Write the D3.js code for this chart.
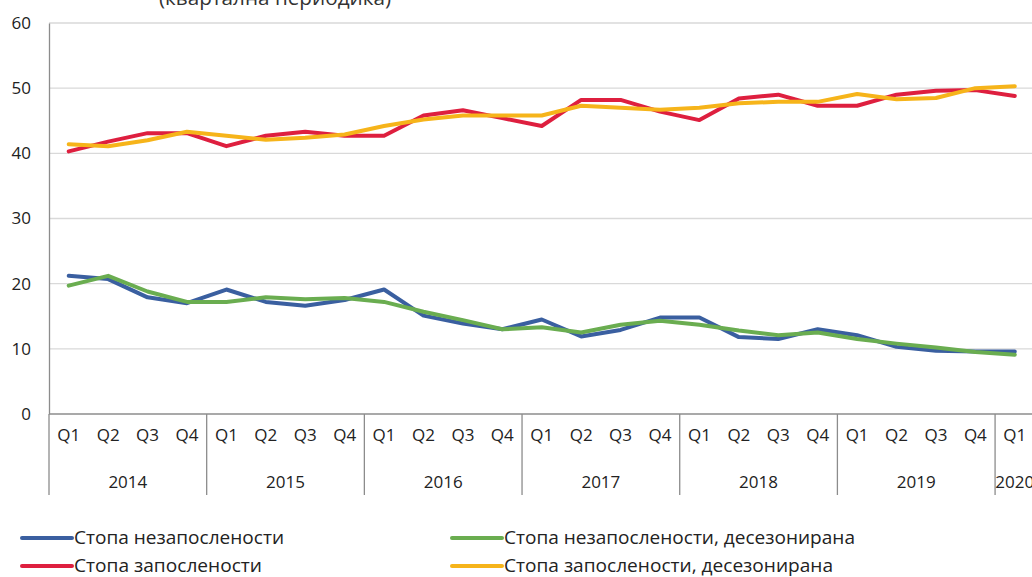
<!DOCTYPE html>
<html>
<head>
<meta charset="utf-8">
<script src="https://cdn.jsdelivr.net/npm/d3@7"></script>
<style>
  body { margin: 0; background: #fff; }
  svg { display: block; font-family: "Open Sans", "DejaVu Sans", sans-serif; }
</style>
</head>
<body>
<svg id="chart"></svg>
<script>
// values, Q1 2014 .. Q1 2020
const years = ["2014", "2015", "2016", "2017", "2018", "2019", "2020"]
const quarters = ["Q1", "Q2", "Q3", "Q4"]
const unemployment = [21.2, 20.7, 17.9, 17.0, 19.1, 17.2, 16.6, 17.5, 19.1, 15.1, 13.9, 13.0, 14.5, 11.9, 12.9, 14.8, 14.8, 11.8, 11.5, 13.0, 12.1, 10.3, 9.7, 9.6, 9.6]
const unemploymentSA = [19.7, 21.2, 18.8, 17.2, 17.2, 17.9, 17.6, 17.8, 17.2, 15.7, 14.4, 13.0, 13.3, 12.5, 13.7, 14.3, 13.7, 12.8, 12.1, 12.5, 11.5, 10.8, 10.2, 9.5, 9.1]
const employment = [40.3, 41.8, 43.1, 43.1, 41.1, 42.7, 43.3, 42.7, 42.7, 45.8, 46.6, 45.4, 44.2, 48.2, 48.2, 46.4, 45.1, 48.4, 49.0, 47.3, 47.3, 49.0, 49.6, 49.7, 48.8]
const employmentSA = [41.4, 41.1, 42.0, 43.3, 42.7, 42.1, 42.4, 42.9, 44.2, 45.2, 45.8, 45.8, 45.8, 47.3, 47.0, 46.7, 47.0, 47.7, 47.9, 47.9, 49.1, 48.3, 48.5, 50.0, 50.3]
const yTicks = [0, 10, 20, 30, 40, 50, 60]
const title = "(квартална периодика)"

const series = [
  {name: "Стопа незапослености", values: unemployment, color: "#3a5fa0"},
  {name: "Стопа незапослености, десезонирана", values: unemploymentSA, color: "#6aad50"},
  {name: "Стопа запослености", values: employment, color: "#de1f3f"},
  {name: "Стопа запослености, десезонирана", values: employmentSA, color: "#f6b41a"}
]

// build the category list: 4 quarters per year, only Q1 for last year
const cats = []
years.forEach((yr, yi) => {
  const qs = yi === years.length - 1 ? quarters.slice(0, 1) : quarters
  qs.forEach(q => cats.push({year: yr, q: q, key: yr + q}))
})

const width = 1032, height = 577
const margin = {top: 23, left: 49, bottom: 163}
const bandW = 39.42

const svg = d3.select("#chart").attr("width", width).attr("height", height)

const x = d3.scaleBand()
  .domain(cats.map(d => d.key))
  .range([margin.left, margin.left + bandW * cats.length])

const y = d3.scaleLinear()
  .domain([0, 60])
  .range([height - margin.bottom, margin.top])

// title (cut off at top like the original)
svg.append("text")
  .attr("x", 275).attr("y", 5)
  .attr("text-anchor", "middle")
  .attr("font-size", 20).attr("fill", "#333")
  .attr("textLength", 232).attr("lengthAdjust", "spacingAndGlyphs")
  .text(title)

// gridlines
svg.append("g")
  .selectAll("line")
  .data(yTicks.filter(d => d > 0))
  .join("line")
    .attr("x1", margin.left).attr("x2", width)
    .attr("y1", d => y(d)).attr("y2", d => y(d))
    .attr("stroke", "#d9d9d9").attr("stroke-width", 1.3)

// y axis labels
const yAxis = svg.append("g")
  .attr("transform", `translate(${margin.left},0)`)
  .call(d3.axisLeft(y).tickValues(yTicks).tickSize(0).tickPadding(18))
yAxis.select(".domain").attr("stroke", "#8c8c8c").attr("stroke-width", 1.3)
yAxis.selectAll("text").attr("font-size", 17).attr("fill", "#222")
  .attr("font-family", "Open Sans, sans-serif")

// x axis: quarter row
const y0 = y(0)
const xAxis = svg.append("g")
  .attr("transform", `translate(0,${y0})`)
  .call(d3.axisBottom(x).tickSize(0).tickPadding(15).tickFormat(k => cats.find(c => c.key === k).q))
xAxis.select(".domain").remove()
xAxis.selectAll("text").attr("font-size", 17).attr("fill", "#222")
  .attr("font-family", "Open Sans, sans-serif")

svg.append("line")
  .attr("x1", margin.left).attr("x2", width)
  .attr("y1", y0).attr("y2", y0)
  .attr("stroke", "#8c8c8c").attr("stroke-width", 1.3)

// year separators and labels
const yearGroups = d3.groups(cats, d => d.year)
svg.append("g")
  .selectAll("line")
  .data(yearGroups)
  .join("line")
    .attr("x1", d => x(d[1][0].key)).attr("x2", d => x(d[1][0].key))
    .attr("y1", y0).attr("y2", y0 + 81)
    .attr("stroke", "#8c8c8c").attr("stroke-width", 1.3)

svg.append("g")
  .selectAll("text")
  .data(yearGroups)
  .join("text")
    .attr("x", d => x(d[1][0].key) + d[1].length * bandW / 2)
    .attr("y", y0 + 74)
    .attr("text-anchor", "middle")
    .attr("font-size", 17).attr("fill", "#222")
    .text(d => d[0])

// lines
const line = d3.line()
  .x((d, i) => x(cats[i].key) + x.bandwidth() / 2)
  .y(d => y(d))

svg.append("g")
  .attr("fill", "none")
  .attr("stroke-width", 4)
  .attr("stroke-linejoin", "round")
  .attr("stroke-linecap", "round")
  .selectAll("path")
  .data(series)
  .join("path")
    .attr("stroke", d => d.color)
    .attr("d", d => line(d.values))

// legend
const legendPos = [
  {x: 22, y: 538}, {x: 452, y: 538},
  {x: 22, y: 566}, {x: 452, y: 566}
]
const textLen = [210, 351, 188, 329]
const leg = svg.append("g")
  .selectAll("g")
  .data(series)
  .join("g")
    .attr("transform", (d, i) => `translate(${legendPos[i].x},${legendPos[i].y})`)
leg.append("line")
  .attr("x1", 0).attr("x2", 50)
  .attr("stroke", d => d.color).attr("stroke-width", 4).attr("stroke-linecap", "round")
leg.append("text")
  .attr("x", 52).attr("y", 6)
  .attr("font-size", 18).attr("fill", "#222")
  .attr("textLength", (d, i) => textLen[i]).attr("lengthAdjust", "spacingAndGlyphs")
  .text(d => d.name)
</script>
</body>
</html>
